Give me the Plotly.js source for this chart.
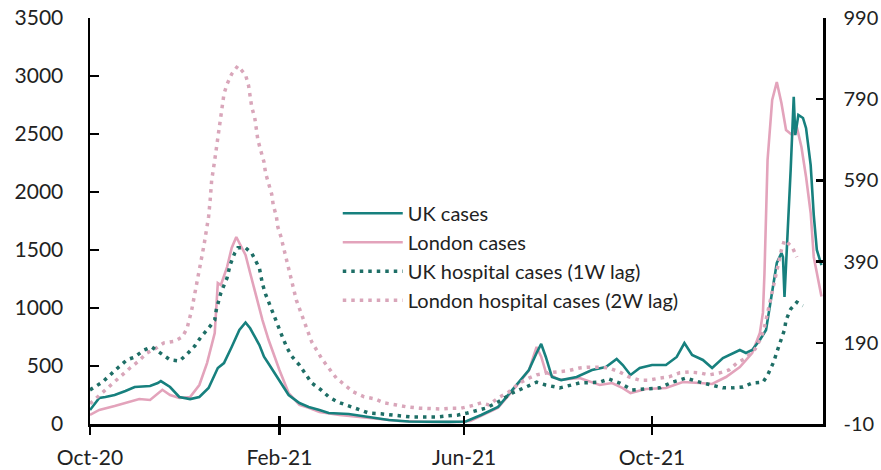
<!DOCTYPE html>
<html><head><meta charset="utf-8">
<script src="https://cdn.plot.ly/plotly-3.0.1.min.js"></script>
<style>html,body{margin:0;padding:0;background:#fff}#chart{width:881px;height:470px}</style>
</head><body><div id="chart"></div>
<script>
const ukCasesDates = ['2020-10-01','2020-10-07','2020-10-11','2020-10-17','2020-10-24','2020-10-30','2020-11-09','2020-11-14','2020-11-16','2020-11-22','2020-11-28','2020-12-05','2020-12-11','2020-12-17','2020-12-23','2020-12-27','2021-01-01','2021-01-06','2021-01-10','2021-01-13','2021-01-19','2021-01-22','2021-01-25','2021-01-29','2021-02-01','2021-02-07','2021-02-14','2021-02-20','2021-02-27','2021-03-05','2021-03-18','2021-03-31','2021-04-13','2021-04-26','2021-05-09','2021-05-22','2021-06-02','2021-06-12','2021-06-23','2021-07-02','2021-07-13','2021-07-18','2021-07-21','2021-07-24','2021-07-28','2021-08-03','2021-08-13','2021-08-23','2021-09-01','2021-09-08','2021-09-12','2021-09-17','2021-09-23','2021-10-01','2021-10-10','2021-10-17','2021-10-22','2021-10-27','2021-11-03','2021-11-09','2021-11-16','2021-11-27','2021-12-01','2021-12-05','2021-12-10','2021-12-14','2021-12-17','2021-12-21','2021-12-24','2021-12-25','2021-12-26','2021-12-28','2021-12-30','2022-01-01','2022-01-02','2022-01-04','2022-01-07','2022-01-09','2022-01-12','2022-01-14','2022-01-16','2022-01-19'];
const ukCasesValues = [120,224,233,250,285,319,328,353,370,319,233,215,233,310,483,525,664,810,875,825,681,580,520,440,380,250,181,147,121,95,86,60,34,22,18,18,22,78,147,293,465,612,690,578,405,379,405,465,491,560,508,422,483,508,508,578,698,595,552,483,569,638,612,638,724,810,1043,1388,1474,1440,1095,1586,2190,2820,2490,2664,2638,2550,2232,1800,1500,1370];

const londonCasesDates = ['2020-10-01','2020-10-07','2020-10-17','2020-10-27','2020-11-02','2020-11-09','2020-11-15','2020-11-17','2020-11-22','2020-11-28','2020-12-05','2020-12-11','2020-12-16','2020-12-21','2020-12-23','2020-12-25','2020-12-29','2021-01-01','2021-01-04','2021-01-08','2021-01-10','2021-01-13','2021-01-17','2021-01-21','2021-01-25','2021-02-01','2021-02-07','2021-02-14','2021-02-20','2021-02-27','2021-03-12','2021-03-31','2021-04-20','2021-05-09','2021-05-29','2021-06-05','2021-06-12','2021-06-23','2021-07-02','2021-07-13','2021-07-18','2021-07-21','2021-07-24','2021-08-02','2021-08-15','2021-08-28','2021-09-05','2021-09-12','2021-09-17','2021-09-27','2021-10-10','2021-10-21','2021-11-01','2021-11-09','2021-11-18','2021-11-27','2021-12-05','2021-12-10','2021-12-12','2021-12-13','2021-12-15','2021-12-18','2021-12-21','2021-12-24','2021-12-27','2021-12-31','2022-01-03','2022-01-06','2022-01-09','2022-01-12','2022-01-14','2022-01-16','2022-01-18','2022-01-19'];
const londonCasesValues = [78,121,155,190,215,207,267,295,250,224,233,336,525,784,1215,1198,1353,1517,1612,1500,1457,1302,1086,896,724,465,267,164,140,103,78,52,26,17,17,25,70,140,280,460,664,580,448,379,396,336,353,310,267,302,310,362,353,345,405,491,612,784,960,1300,2276,2793,2948,2767,2534,2491,2560,2388,2129,1819,1440,1302,1181,1100];

const ukHospDates = ['2020-10-01','2020-10-09','2020-10-19','2020-10-25','2020-10-30','2020-11-05','2020-11-10','2020-11-16','2020-11-22','2020-11-28','2020-12-03','2020-12-08','2020-12-12','2020-12-17','2020-12-21','2020-12-22','2020-12-25','2020-12-29','2020-12-31','2021-01-03','2021-01-05','2021-01-10','2021-01-14','2021-01-19','2021-01-21','2021-01-23','2021-01-26','2021-01-29','2021-01-31','2021-02-03','2021-02-06','2021-02-09','2021-02-14','2021-02-18','2021-02-22','2021-02-28','2021-03-05','2021-03-11','2021-03-18','2021-03-25','2021-03-31','2021-04-08','2021-04-15','2021-04-22','2021-04-28','2021-05-06','2021-05-14','2021-05-21','2021-05-28','2021-06-03','2021-06-15','2021-06-23','2021-07-02','2021-07-11','2021-07-18','2021-07-24','2021-08-02','2021-08-15','2021-08-28','2021-09-03','2021-09-10','2021-09-18','2021-09-27','2021-10-06','2021-10-14','2021-10-23','2021-11-01','2021-11-09','2021-11-16','2021-11-22','2021-11-29','2021-12-05','2021-12-12','2021-12-15','2021-12-19','2021-12-21','2021-12-24','2021-12-26','2021-12-27','2021-12-30','2022-01-03','2022-01-07'];
const ukHospValues = [74,93,128,148,155,172,180,165,148,145,162,182,204,226,246,271,313,350,382,411,424,424,411,374,335,310,281,254,229,204,177,157,135,111,91,74,57,44,34,24,17,15,12,10,7,7,7,10,12,17,29,44,66,81,93,86,79,91,93,101,91,74,76,79,93,103,93,86,79,79,81,91,93,110,143,167,197,222,246,273,290,281];

const londonHospDates = ['2020-10-01','2020-10-11','2020-10-16','2020-10-22','2020-10-27','2020-11-01','2020-11-07','2020-11-13','2020-11-18','2020-11-25','2020-11-30','2020-12-03','2020-12-06','2020-12-08','2020-12-10','2020-12-12','2020-12-14','2020-12-16','2020-12-17','2020-12-18','2020-12-19','2020-12-21','2020-12-23','2020-12-24','2020-12-25','2020-12-26','2020-12-27','2020-12-29','2021-01-01','2021-01-05','2021-01-10','2021-01-12','2021-01-13','2021-01-14','2021-01-16','2021-01-17','2021-01-18','2021-01-20','2021-01-22','2021-01-23','2021-01-25','2021-01-27','2021-01-28','2021-01-30','2021-01-31','2021-02-02','2021-02-12','2021-02-17','2021-02-22','2021-03-01','2021-03-10','2021-03-21','2021-03-28','2021-04-04','2021-04-10','2021-04-18','2021-04-25','2021-05-03','2021-05-11','2021-05-17','2021-05-24','2021-05-30','2021-06-05','2021-06-12','2021-06-17','2021-06-23','2021-06-30','2021-07-07','2021-07-13','2021-07-18','2021-07-25','2021-07-31','2021-08-07','2021-08-15','2021-08-21','2021-08-28','2021-09-03','2021-09-10','2021-09-16','2021-09-23','2021-09-29','2021-10-06','2021-10-12','2021-10-19','2021-10-25','2021-11-01','2021-11-07','2021-11-14','2021-11-20','2021-11-25','2021-12-01','2021-12-07','2021-12-11','2021-12-13','2021-12-15','2021-12-17','2021-12-19','2021-12-21','2021-12-23','2021-12-24','2021-12-26','2021-12-31','2022-01-03'];
const londonHospValues = [40,74,93,111,128,143,165,177,190,194,205,225,270,310,345,390,430,470,500,540,590,640,694,721,749,776,803,827,852,872,850,823,795,771,744,717,690,662,635,608,584,556,529,502,475,451,295,241,192,148,103,69,57,52,42,37,32,29,27,27,29,29,34,42,37,54,69,91,103,111,116,118,121,128,130,130,128,118,106,98,98,103,106,116,118,116,111,116,123,140,153,175,204,229,263,295,327,362,394,419,443,426,401];

const tickDates = ['2020-10-01','2021-02-01','2021-06-01','2021-10-01'];
const tickLabels = ['Oct-20','Feb-21','Jun-21','Oct-21'];
const leftTicks = [0,500,1000,1500,2000,2500,3000,3500];
const rightTicks = [-10,190,390,590,790,990];
const rightTickLabels = ['-10','190','390','590','790','990'];

const seriesNames = ['UK cases','London cases','UK hospital cases (1W lag)','London hospital cases (2W lag)'];
const colors = ['#17807e','#e3a3bb','#1e6e66','#d9a6ba'];

const traces = [
  {x: ukCasesDates, y: ukCasesValues, name: seriesNames[0], legendgroup:'a', type:'scatter', mode:'lines',
   line:{color:colors[0], width:2.6}, xaxis:'x', yaxis:'y'},
  {x: londonCasesDates, y: londonCasesValues, name: seriesNames[1], legendgroup:'b', type:'scatter', mode:'lines',
   line:{color:colors[1], width:2.6}, xaxis:'x', yaxis:'y'},
  {x: ukHospDates, y: ukHospValues, name: seriesNames[2], legendgroup:'c', type:'scatter', mode:'lines',
   line:{color:colors[2], width:3.5, dash:'3.5px,5px'}, xaxis:'x2', yaxis:'y2'},
  {x: londonHospDates, y: londonHospValues, name: seriesNames[3], legendgroup:'d', type:'scatter', mode:'lines',
   line:{color:colors[3], width:3.5, dash:'3.5px,5px'}, xaxis:'x2', yaxis:'y2'}
];
const ordered = [traces[3], traces[2], traces[1], traces[0]];

const xRange = ['2020-10-01','2022-01-20'];
const fontFam = 'Lato, "Open Sans", sans-serif';

const layout = {
  width: 881, height: 470,
  margin: {l:90, r:58, t:18, b:46, pad:0},
  paper_bgcolor:'#ffffff', plot_bgcolor:'#ffffff',
  font: {family: fontFam, size: 21, color:'#222222'},
  showlegend: true,
  xaxis: {type:'date', range:xRange, tickmode:'array', tickvals:tickDates, ticktext:tickLabels,
    ticks:'outside', ticklen:8, tickwidth:2.5, tickcolor:'#000', showline:true, linecolor:'#000', linewidth:2.5,
    showgrid:false, zeroline:false, ticklabelstandoff:5, tickfont:{size:21, color:'#222'}, anchor:'y', fixedrange:true},
  xaxis2: {type:'date', range:xRange, overlaying:'x', anchor:'y2', tickmode:'array', tickvals:tickDates,
    ticks:'inside', ticklen:8, tickwidth:2.5, tickcolor:'#000', showticklabels:false, showline:false,
    showgrid:false, zeroline:false, fixedrange:true},
  yaxis: {range:[0,3500], tickmode:'array', tickvals:leftTicks, ticks:'inside', ticklen:9, tickwidth:2.5, tickcolor:'#000',
    showline:true, linecolor:'#000', linewidth:2.5, showgrid:false, zeroline:false, ticklabelstandoff:20,
    tickfont:{size:21, color:'#222'}, fixedrange:true},
  yaxis2: {range:[-10,990], overlaying:'y', side:'right', anchor:'x2', tickmode:'array', tickvals:rightTicks,
    ticktext:rightTickLabels,
    ticks:'inside', ticklen:7, tickwidth:2.5, tickcolor:'#000', showline:true, linecolor:'#000', linewidth:2.5,
    showgrid:false, zeroline:false, ticklabelstandoff:14, tickfont:{size:20, color:'#222'}, fixedrange:true},
  legend: {x:0.338, y:0.567, xanchor:'left', yanchor:'top', bgcolor:'rgba(0,0,0,0)', borderwidth:0,
    font:{size:20, color:'#222'}, itemwidth:60, tracegroupgap:0, traceorder:'grouped'}
};

ordered.forEach(t => { t.legendrank = seriesNames.indexOf(t.name) + 1; });

Plotly.newPlot('chart', ordered, layout, {staticPlot:true, displayModeBar:false});
</script>
</body></html>
